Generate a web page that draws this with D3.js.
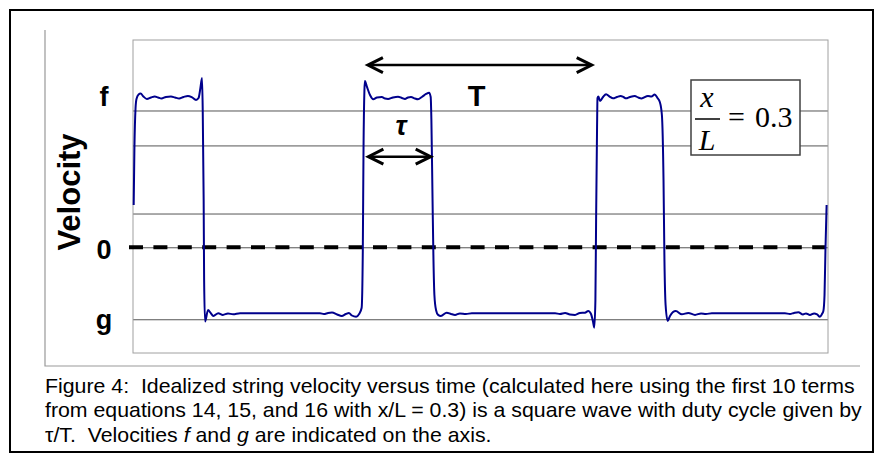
<!DOCTYPE html>
<html lang="en">
  <head>
    <meta charset="UTF-8" />
    <title>String velocity</title>
    <style>
      body { margin: 0; background: #fff; }
      text { font-family: "Liberation Sans", Arial, sans-serif; }
      .grid line { stroke: #555; stroke-width: 1; }
      .grid path { display: none; }
      .caption text { white-space: pre; }
    </style>
  </head>
  <body>
    <svg id="chart" width="876" height="459"></svg>
  </body>
  <script src="https://cdn.jsdelivr.net/npm/d3@7"></script>
  <script>
    // time in periods (T = 1), velocity in units of f
    const timeT = [0.003,0.006,0.011,0.015,0.024,0.033,0.045,0.060,0.078,0.094,
      0.108,0.123,0.142,0.164,0.181,0.199,0.218,0.237,0.255,0.272,
      0.283,0.291,0.298,0.301,0.305,0.307,0.311,0.324,0.335,0.347,
      0.368,0.388,0.410,0.432,0.462,0.807,0.824,0.842,0.859,0.881,
      0.901,0.919,0.932,0.945,0.963,0.976,0.987,0.992,0.995,0.999,
      1.001,1.010,1.023,1.037,1.053,1.074,1.088,1.101,1.122,1.144,
      1.161,1.174,1.187,1.200,1.217,1.230,1.247,1.265,1.278,1.285,
      1.288,1.293,1.297,1.301,1.308,1.317,1.329,1.354,1.373,1.390,
      1.411,1.437,1.463,1.822,1.843,1.865,1.886,1.908,1.929,1.951,
      1.965,1.977,1.986,1.991,1.996,1.999,2.003,2.005,2.009,2.016,
      2.029,2.042,2.057,2.072,2.089,2.105,2.117,2.128,2.145,2.166,
      2.180,2.195,2.223,2.238,2.252,2.264,2.274,2.283,2.290,2.294,
      2.299,2.308,2.318,2.343,2.369,2.397,2.426,2.452,2.473,2.499,
      2.814,2.836,2.853,2.872,2.892,2.905,2.922,2.940,2.953,2.965,
      2.974,2.980,2.985,2.989,2.994];
    const velocity = [0.282,0.649,0.929,0.989,1.019,1.025,1.005,0.989,0.999,1.005,
      0.999,0.992,1.002,1.005,0.999,0.992,1.002,1.009,0.999,0.982,
      0.995,1.062,1.129,0.915,0.315,-0.218,-0.495,-0.418,-0.438,-0.458,
      -0.440,-0.451,-0.441,-0.447,-0.440,-0.440,-0.445,-0.438,-0.435,-0.448,
      -0.458,-0.445,-0.438,-0.455,-0.463,-0.445,-0.403,-0.018,0.649,1.049,
      1.109,1.069,1.015,0.987,0.999,1.002,0.992,0.989,0.999,1.004,
      0.995,0.989,0.999,1.002,0.992,0.987,1.002,1.022,1.031,1.002,
      0.849,0.315,-0.085,-0.318,-0.418,-0.451,-0.458,-0.436,-0.445,-0.451,
      -0.441,-0.445,-0.440,-0.440,-0.445,-0.438,-0.448,-0.451,-0.438,-0.436,
      -0.425,-0.445,-0.498,-0.536,-0.351,0.182,0.782,0.995,1.005,0.975,
      1.002,1.020,1.005,0.993,1.002,1.009,1.002,0.993,1.002,1.009,
      0.999,0.992,1.009,1.005,1.019,0.995,0.969,0.882,0.449,-0.085,
      -0.385,-0.491,-0.458,-0.425,-0.447,-0.438,-0.451,-0.441,-0.445,-0.440,
      -0.440,-0.445,-0.438,-0.433,-0.448,-0.441,-0.451,-0.441,-0.448,-0.463,
      -0.445,-0.425,-0.318,-0.018,0.282];

    const gridValues = [0.912, 0.679, 0.225, 0, -0.48];
    const tickValues = [1.02, 0, -0.47];
    const tickLabels = ["f", "0", "g"];

    // annotation arrows: [t start, t end, velocity]
    const periodArrow = [1.014, 1.98, 1.215];
    const tauArrow = [1.016, 1.285, 0.604];

    const caption = [
      "Figure 4:  Idealized string velocity versus time (calculated here using the first 10 terms",
      "from equations 14, 15, and 16 with x/L = 0.3) is a square wave with duty cycle given by"
    ];

    let svg = d3.select("#chart");
    let plot = { left: 133, right: 828, top: 40, bottom: 353 };

    let x = d3.scaleLinear().domain([0, 3]).range([plot.left, plot.right]);
    let y = d3.scaleLinear().domain([-0.705, 1.382]).range([plot.bottom, plot.top]);

    // outer frame
    svg.append("rect")
      .attr("x", 10).attr("y", 10).attr("width", 863).attr("height", 442)
      .attr("fill", "none").attr("stroke", "#000").attr("stroke-width", 2);

    // chart area edges (left and bottom only)
    svg.append("path")
      .attr("d", "M45,30 V366 H860")
      .attr("fill", "none").attr("stroke", "#999").attr("stroke-width", 1.2);

    // gridlines
    svg.append("g")
      .attr("class", "grid")
      .attr("transform", `translate(${plot.left},0)`)
      .call(d3.axisLeft(y).tickValues(gridValues).tickSize(-(plot.right - plot.left)).tickFormat(""));

    // plot border
    svg.append("rect")
      .attr("x", plot.left).attr("y", plot.top)
      .attr("width", plot.right - plot.left).attr("height", plot.bottom - plot.top)
      .attr("fill", "none").attr("stroke", "#a0a0a0").attr("stroke-width", 1);

    // zero line, dashed
    svg.append("line")
      .attr("x1", plot.left - 4).attr("x2", plot.right - 2)
      .attr("y1", y(0)).attr("y2", y(0))
      .attr("stroke", "#000").attr("stroke-width", 4)
      .attr("stroke-dasharray", "14,10.4");

    // tick labels f / 0 / g
    let yAxis = svg.append("g")
      .attr("transform", `translate(${plot.left},0)`)
      .call(d3.axisLeft(y).tickValues(tickValues).tickSize(0).tickFormat((d, i) => tickLabels[i]));
    yAxis.select(".domain").remove();
    yAxis.selectAll("text")
      .attr("x", -29).attr("dy", "0.4em")
      .attr("text-anchor", "middle")
      .style("font-family", "'Liberation Sans', Arial, sans-serif")
      .style("font-size", "27px").style("font-weight", "bold").attr("fill", "#000");

    // y title
    svg.append("text")
      .attr("transform", "translate(80,192) rotate(-90)")
      .attr("text-anchor", "middle")
      .style("font-size", "31px").style("font-weight", "bold")
      .text("Velocity");

    // waveform
    let points = d3.zip(timeT, velocity);
    let line = d3.line()
      .x((d) => x(d[0]))
      .y((d) => y(d[1]))
      .curve(d3.curveMonotoneX);
    svg.append("path")
      .datum(points)
      .attr("d", line)
      .attr("fill", "none")
      .attr("stroke", "#00008c")
      .attr("stroke-width", 2)
      .attr("stroke-linejoin", "round");

    // double arrows
    const drawArrow = (a) => {
      let x1 = x(a[0]), x2 = x(a[1]), yy = y(a[2]);
      let g = svg.append("g").attr("stroke", "#000").attr("fill", "none");
      g.append("line").attr("x1", x1 + 2).attr("x2", x2 - 2).attr("y1", yy).attr("y2", yy)
        .attr("stroke-width", 2.6);
      g.append("path").attr("d", `M${x1 + 15},${yy - 7.5} L${x1},${yy} L${x1 + 15},${yy + 7.5}`)
        .attr("stroke-width", 3).attr("stroke-linejoin", "miter");
      g.append("path").attr("d", `M${x2 - 15},${yy - 7.5} L${x2},${yy} L${x2 - 15},${yy + 7.5}`)
        .attr("stroke-width", 3).attr("stroke-linejoin", "miter");
    };
    drawArrow(periodArrow);
    drawArrow(tauArrow);

    svg.append("text")
      .attr("x", x(1.483)).attr("y", 106)
      .attr("text-anchor", "middle")
      .style("font-size", "29px").style("font-weight", "bold")
      .text("T");

    svg.append("text")
      .attr("x", x(1.157)).attr("y", 135)
      .attr("text-anchor", "middle")
      .style("font-size", "27px").style("font-style", "italic").style("font-weight", "bold")
      .text("τ");

    // x/L = 0.3 box
    let box = svg.append("g");
    box.append("rect")
      .attr("x", 691).attr("y", 80).attr("width", 109).attr("height", 75)
      .attr("fill", "#fff").attr("stroke", "#404040").attr("stroke-width", 1.5);
    const serif = "'Liberation Serif', 'Times New Roman', serif";
    box.append("text").attr("x", 707).attr("y", 107).attr("text-anchor", "middle")
      .style("font-family", serif).style("font-size", "30px").style("font-style", "italic").text("x");
    box.append("line").attr("x1", 695).attr("x2", 720).attr("y1", 119).attr("y2", 119)
      .attr("stroke", "#000").attr("stroke-width", 1.5);
    box.append("text").attr("x", 707).attr("y", 150).attr("text-anchor", "middle")
      .style("font-family", serif).style("font-size", "30px").style("font-style", "italic").text("L");
    box.append("text").attr("x", 728).attr("y", 127)
      .style("font-family", serif).style("font-size", "30px").text("=");
    box.append("text").attr("x", 755).attr("y", 127)
      .style("font-family", serif).style("font-size", "30px").text("0.3");

    // caption, squeezed like the original narrow face
    let cap = svg.append("g").attr("class", "caption");
    let capText = cap.selectAll("text.l")
      .data(caption)
      .enter()
      .append("text")
      .attr("class", "l")
      .attr("x", 0)
      .attr("y", (d, i) => 393 + i * 24.5)
      .style("font-size", "20px")
      .text((d) => d);
    let last = cap.append("text").attr("x", 0).attr("y", 393 + 2 * 24.5).style("font-size", "20px");
    last.append("tspan").text("τ/T.  Velocities ");
    last.append("tspan").style("font-style", "italic").text("f");
    last.append("tspan").text(" and ");
    last.append("tspan").style("font-style", "italic").text("g");
    last.append("tspan").text(" are indicated on the axis.");

    let w = capText.node().getComputedTextLength();
    cap.attr("transform", `translate(45,0) scale(${810 / w},1)`);
  </script>
</html>
